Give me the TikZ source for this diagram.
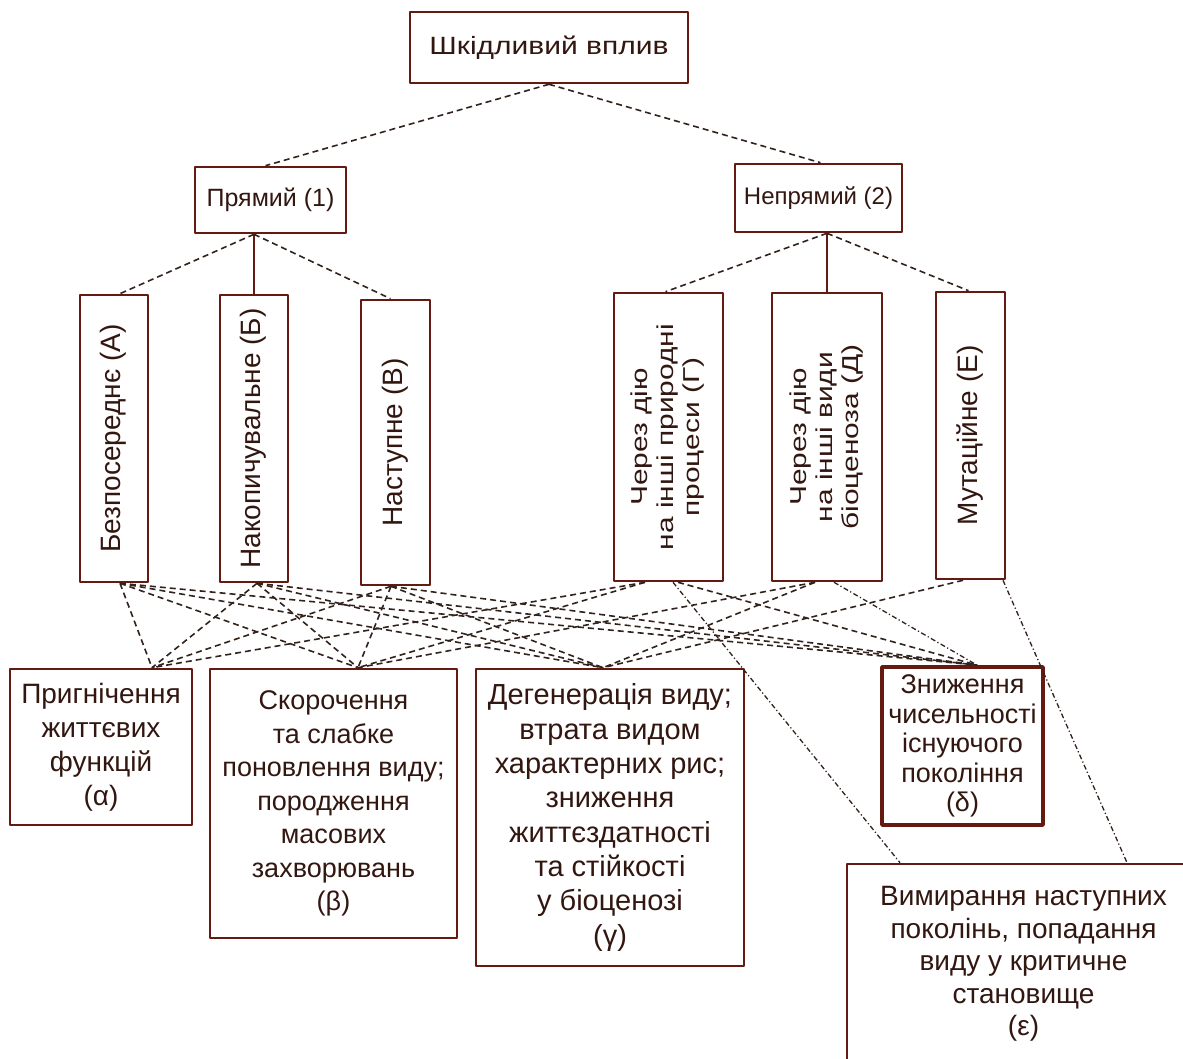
\documentclass[tikz,border=0pt]{standalone}
\usepackage{fontspec}
\usepackage{graphicx}
\setmainfont{Liberation Sans}
\newfontfamily\titlefont{Liberation Sans}[FakeStretch=1.2]
\newfontfamily\narrowvert{Liberation Sans}[FakeStretch=1.3]
\definecolor{boxcol}{RGB}{100,26,16}
\definecolor{linkcol}{RGB}{50,34,28}
\definecolor{txtcol}{RGB}{50,22,16}
\newcommand\vlabel[1]{\rotatebox{90}{\begin{tabular}{@{}c@{}}#1\end{tabular}}}
\usetikzlibrary{arrows}

\begin{document}
\begin{tikzpicture}[line join=bevel,
  box/.style={draw=boxcol, line width=2.6bp, inner sep=0pt, align=center, text=txtcol, font=\fontsize{28bp}{34bp}\selectfont},
  link/.style={draw=linkcol, line width=1.6bp, dash pattern=on 6bp off 4bp},
  dotlink/.style={draw=linkcol, line width=1.3bp, dash pattern=on 5bp off 2.5bp on 1.2bp off 2.5bp},
  tie/.style={draw=boxcol, line width=2bp}]
  \useasboundingbox (0bp,0bp) rectangle (1183bp,1059bp);
  \node (top) at (549bp,1011.5bp) [box, minimum width=278bp, minimum height=71bp, font=\titlefont\fontsize{25bp}{30bp}\selectfont] {Шкідливий вплив};
  \node (prm) at (270.5bp,859bp) [box, minimum width=151bp, minimum height=66bp, font=\fontsize{25bp}{30bp}\selectfont] {Прямий (1)};
  \node (nep) at (818.5bp,861bp) [box, minimum width=167bp, minimum height=68bp, font=\fontsize{24bp}{30bp}\selectfont] {Непрямий (2)};
  \node (a) at (114bp,620.5bp) [box, minimum width=68bp, minimum height=287bp] {\vlabel{Безпосереднє (А)}};
  \node (b) at (254bp,620.5bp) [box, minimum width=68bp, minimum height=287bp] {\vlabel{Накопичувальне (Б)}};
  \node (v) at (395.5bp,616.5bp) [box, minimum width=69bp, minimum height=285bp] {\vlabel{Наступне (В)}};
  \node (g) at (668.5bp,622bp) [box, minimum width=109bp, minimum height=288bp, font=\narrowvert\fontsize{23bp}{26bp}\selectfont] {\vlabel{Через дію\\на інші природні\\процеси (Г)}};
  \node (d) at (827bp,622bp) [box, minimum width=110bp, minimum height=288bp, font=\narrowvert\fontsize{23bp}{26bp}\selectfont] {\vlabel{Через дію\\на інші види\\біоценоза (Д)}};
  \node (e) at (970.5bp,623.5bp) [box, minimum width=69bp, minimum height=287bp] {\vlabel{Мутаційне (Е)}};
  \node (al) at (101bp,312bp) [box, minimum width=182bp, minimum height=156bp] {Пригнічення\\життєвих\\функцій\\(α)};
  \node (be) at (333.5bp,255.5bp) [box, minimum width=247bp, minimum height=269bp, font=\fontsize{27bp}{33.5bp}\selectfont] {Скорочення\\та слабке\\поновлення виду;\\породження\\масових\\захворювань\\(β)};
  \node (ga) at (610bp,241.5bp) [box, minimum width=268bp, minimum height=297bp, font=\fontsize{29bp}{34.3bp}\selectfont] {Дегенерація виду;\\втрата видом\\характерних рис;\\зниження\\життєздатності\\та стійкості\\у біоценозі\\(γ)};
  \node (de) at (962.5bp,313bp) [box, line width=3.8bp, minimum width=161bp, minimum height=158bp, font=\fontsize{27bp}{29.5bp}\selectfont] {Зниження\\чисельності\\існуючого\\покоління\\(δ)};
  \node (ep) at (1023.5bp,95bp) [box, minimum width=353bp, minimum height=200bp, font=\fontsize{28bp}{32.5bp}\selectfont] {Вимирання наступних\\поколінь, попадання\\виду у критичне\\становище\\(ε)};

  \coordinate (prm-out) at (b.north |- prm.south);
  \coordinate (nep-out) at (d.north |- nep.south);
  \coordinate (a-out) at ([xshift=6bp]a.south);
  \coordinate (b-out) at ([xshift=3bp]b.south);
  \coordinate (v-out) at ([xshift=-4.5bp]v.south);
  \coordinate (g-out) at ([xshift=-23.5bp]g.south);
  \coordinate (g-ep) at ([xshift=4.5bp]g.south);
  \coordinate (g-de) at ([xshift=9.5bp]g.south);
  \coordinate (d-out) at ([xshift=-12bp]d.south);
  \coordinate (d-de) at ([xshift=7bp]d.south);
  \coordinate (e-out) at ([xshift=-7.5bp]e.south);
  \coordinate (e-ep) at ([xshift=32.5bp]e.south);
  \coordinate (al-in) at ([xshift=51bp]al.north);
  \coordinate (be-in) at ([xshift=24.5bp]be.north);
  \coordinate (ga-in) at ([xshift=-7bp]ga.north);
  \coordinate (de-in) at ([xshift=14.5bp]de.north);
  \coordinate (ep-g) at ([xshift=-123.5bp]ep.north);
  \coordinate (ep-e) at ([xshift=103.5bp]ep.north);

  \draw [link] (top.south) -- ([xshift=-5bp]prm.north);
  \draw [link] (top.south) -- ([xshift=2bp]nep.north);
  \draw [link] (prm-out) -- ([xshift=6bp]a.north);
  \draw [tie] (prm-out) -- (b.north);
  \draw [link] (prm-out) -- ([xshift=-5bp]v.north);
  \draw [link] (nep-out) -- ([xshift=-3bp]g.north);
  \draw [tie] (nep-out) -- (d.north);
  \draw [link] (nep-out) -- ([xshift=-2bp]e.north);

  \draw [link] (a-out) -- (al-in);
  \draw [link] (a-out) -- (be-in);
  \draw [link] (a-out) -- (ga-in);
  \draw [link] (a-out) -- (de-in);
  \draw [link] (b-out) -- (al-in);
  \draw [link] (b-out) -- (be-in);
  \draw [link] (b-out) -- (ga-in);
  \draw [link] (b-out) -- (de-in);
  \draw [link] (v-out) -- (al-in);
  \draw [link] (v-out) -- (be-in);
  \draw [link] (v-out) -- (ga-in);
  \draw [link] (v-out) -- (de-in);
  \draw [link] (g-out) -- (al-in);
  \draw [link] (g-out) -- (be-in);
  \draw [link] (g-de) -- (de-in);
  \draw [dotlink] (g-ep) -- (ep-g);
  \draw [link] (d-out) -- (be-in);
  \draw [link] (d-out) -- (ga-in);
  \draw [dotlink] (d-de) -- (de-in);
  \draw [link] (e-out) -- (ga-in);
  \draw [dotlink] (e-ep) -- (ep-e);
\end{tikzpicture}
\end{document}
